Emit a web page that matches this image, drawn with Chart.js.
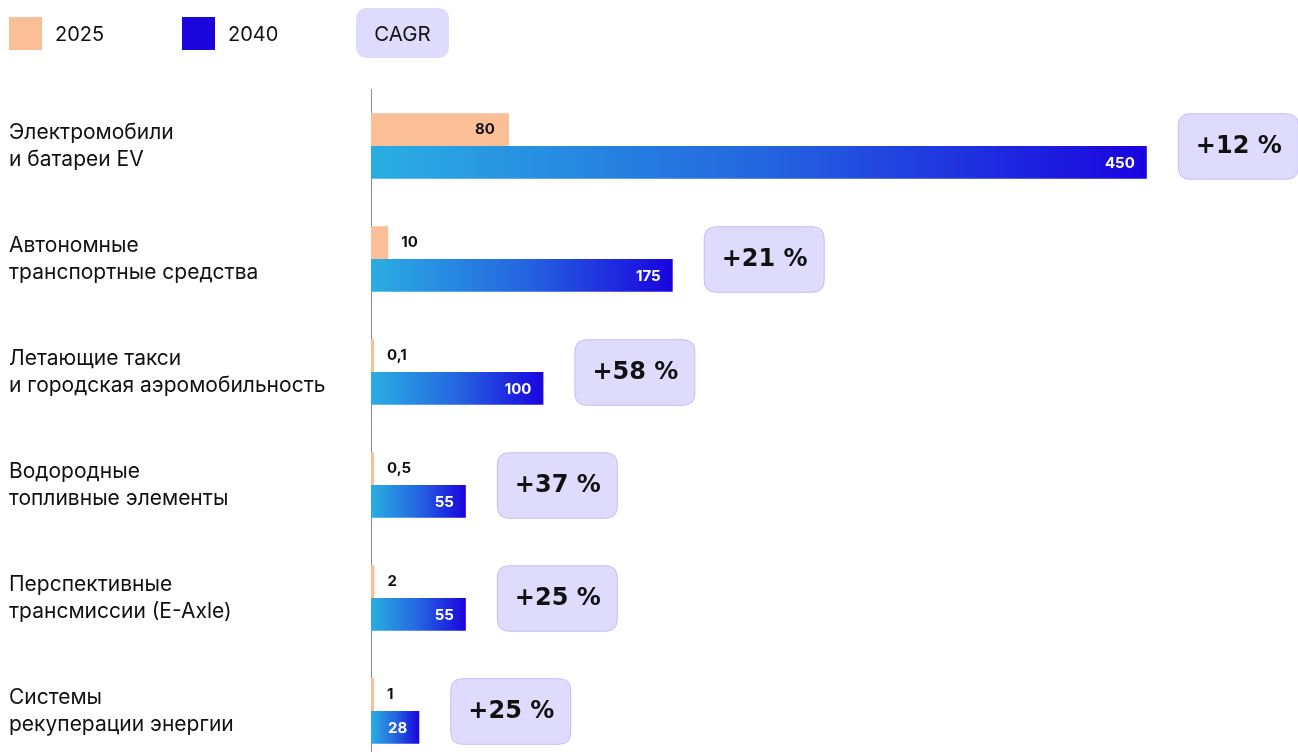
<!DOCTYPE html>
<html lang="ru">
<head>
<meta charset="utf-8">
<script src="https://cdn.jsdelivr.net/npm/chart.js@4.4.1/dist/chart.umd.min.js"></script>
<style>
    html, body { margin: 0; padding: 0; background: #fff; overflow: hidden; }
    body { width: 1298px; height: 752px; position: relative; font-family: Inter, 'Noto Sans', sans-serif; color: #111; }
    .legend { position: absolute; top: 0; left: 0; height: 70px; width: 600px; z-index: 2; }
    .swatch { position: absolute; top: 17px; width: 33px; height: 33px; }
    .legend-text { position: absolute; top: 21px; font-size: 20px; line-height: 26px; }
    .cagr-pill { position: absolute; left: 356px; top: 8px; width: 93px; height: 50px; border-radius: 10px; background: #dfdbfd; font-size: 20.5px; line-height: 52px; text-align: center; }
    #chartWrap { position: absolute; top: 0; left: 0; width: 1298px; height: 770px; }
</style>
</head>
<body>
<div class="legend">
    <div class="swatch" style="left:9px;background:#fbbf98"></div>
    <div class="legend-text" style="left:55px">2025</div>
    <div class="swatch" style="left:182px;background:#1a06dc"></div>
    <div class="legend-text" style="left:228px">2040</div>
    <div class="cagr-pill">CAGR</div>
</div>
<div id="chartWrap"><canvas id="marketChart" width="1298" height="770"></canvas></div>
<script>
const categories = [
    ['Электромобили', 'и батареи EV'],
    ['Автономные', 'транспортные средства'],
    ['Летающие такси', 'и городская аэромобильность'],
    ['Водородные', 'топливные элементы'],
    ['Перспективные', 'трансмиссии (E-Axle)'],
    ['Системы', 'рекуперации энергии']
];
const values2025 = [80, 10, 0.1, 0.5, 2, 1];
const values2040 = [450, 175, 100, 55, 55, 28];
const cagrLabels = ['+12 %', '+21 %', '+58 %', '+37 %', '+25 %', '+25 %'];

const PEACH = '#fbbf98';

function fmt(v) {
    return String(v).replace('.', ',');
}

// per-bar gradient: light blue at the axis, deep blue at the bar end
function blueGradient(ctx) {
    const chart = ctx.chart;
    if (!chart.chartArea || ctx.raw == null) return '#2466e0';
    const x = chart.scales.x;
    const x0 = x.getPixelForValue(0);
    const x1 = x.getPixelForValue(ctx.raw);
    const g = chart.ctx.createLinearGradient(x0, 0, x1, 0);
    g.addColorStop(0, '#2aaee2');
    g.addColorStop(0.5, '#2466e0');
    g.addColorStop(1, '#1a04df');
    return g;
}

function roundRect(c, x, y, w, h, r) {
    c.beginPath();
    c.moveTo(x + r, y);
    c.lineTo(x + w - r, y);
    c.quadraticCurveTo(x + w, y, x + w, y + r);
    c.lineTo(x + w, y + h - r);
    c.quadraticCurveTo(x + w, y + h, x + w - r, y + h);
    c.lineTo(x + r, y + h);
    c.quadraticCurveTo(x, y + h, x, y + h - r);
    c.lineTo(x, y + r);
    c.quadraticCurveTo(x, y, x + r, y);
    c.closePath();
}

// value labels on the bars and CAGR pills to the right of each group
const labelsPlugin = {
    id: 'barLabels',
    afterDatasetsDraw(chart) {
        const c = chart.ctx;
        const m0 = chart.getDatasetMeta(0);
        const m1 = chart.getDatasetMeta(1);
        c.save();
        c.textBaseline = 'middle';

        m0.data.forEach(function (bar, i) {
            const v = values2025[i];
            c.font = '700 15px Inter, sans-serif';
            c.fillStyle = '#111';
            const inside = (bar.x - bar.base) > 60;
            if (inside) {
                c.textAlign = 'right';
                c.fillText(fmt(v), bar.x - 14, bar.y);
            } else {
                c.textAlign = 'left';
                c.fillText(fmt(v), bar.x + 13, bar.y);
            }
        });

        m1.data.forEach(function (bar, i) {
            c.font = '700 15px Inter, sans-serif';
            c.fillStyle = '#fff';
            c.textAlign = 'right';
            c.fillText(fmt(values2040[i]), bar.x - 12, bar.y + 1);

            const top = m0.data[i].y - m0.data[i].height / 2;
            const bottom = bar.y + bar.height / 2;
            const px = bar.x + 31;
            const pw = 120;
            roundRect(c, px + 0.5, top + 0.5, pw, bottom - top, 12);
            c.fillStyle = '#dfdbfd';
            c.fill();
            c.strokeStyle = '#c4bcf7';
            c.lineWidth = 1;
            c.stroke();

            c.font = 'bold 24px "DejaVu Sans", sans-serif';
            c.fillStyle = '#111';
            c.textAlign = 'center';
            c.fillText(cagrLabels[i], px + pw / 2 + 1, (top + bottom) / 2 + 1);
        });
        c.restore();
    }
};

new Chart(document.getElementById('marketChart'), {
    type: 'bar',
    data: {
        labels: categories,
        datasets: [
            {
                label: '2025',
                data: values2025,
                backgroundColor: PEACH,
                minBarLength: 3
            },
            {
                label: '2040',
                data: values2040,
                backgroundColor: blueGradient
            }
        ]
    },
    options: {
        indexAxis: 'y',
        responsive: false,
        animation: false,
        events: [],
        layout: { padding: { left: 9, right: 65, top: 89.5, bottom: 2.5 } },
        datasets: {
            bar: { barPercentage: 1, categoryPercentage: 0.58, borderWidth: 0 }
        },
        plugins: {
            legend: { display: false },
            tooltip: { enabled: false }
        },
        scales: {
            x: {
                display: false,
                min: 0,
                max: 500
            },
            y: {
                grid: { display: false },
                border: { display: true, color: '#8a8a8a', width: 1 },
                ticks: {
                    crossAlign: 'far',
                    color: '#111',
                    font: { family: 'Inter, sans-serif', size: 21, lineHeight: 1.29 }
                },
                afterFit: function (axis) {
                    axis.width = 362;
                    // the multi-line labels would otherwise pad the plot vertically
                    axis.paddingTop = 0;
                    axis.paddingBottom = 0;
                }
            }
        }
    },
    plugins: [labelsPlugin]
});
</script>
</body>
</html>
